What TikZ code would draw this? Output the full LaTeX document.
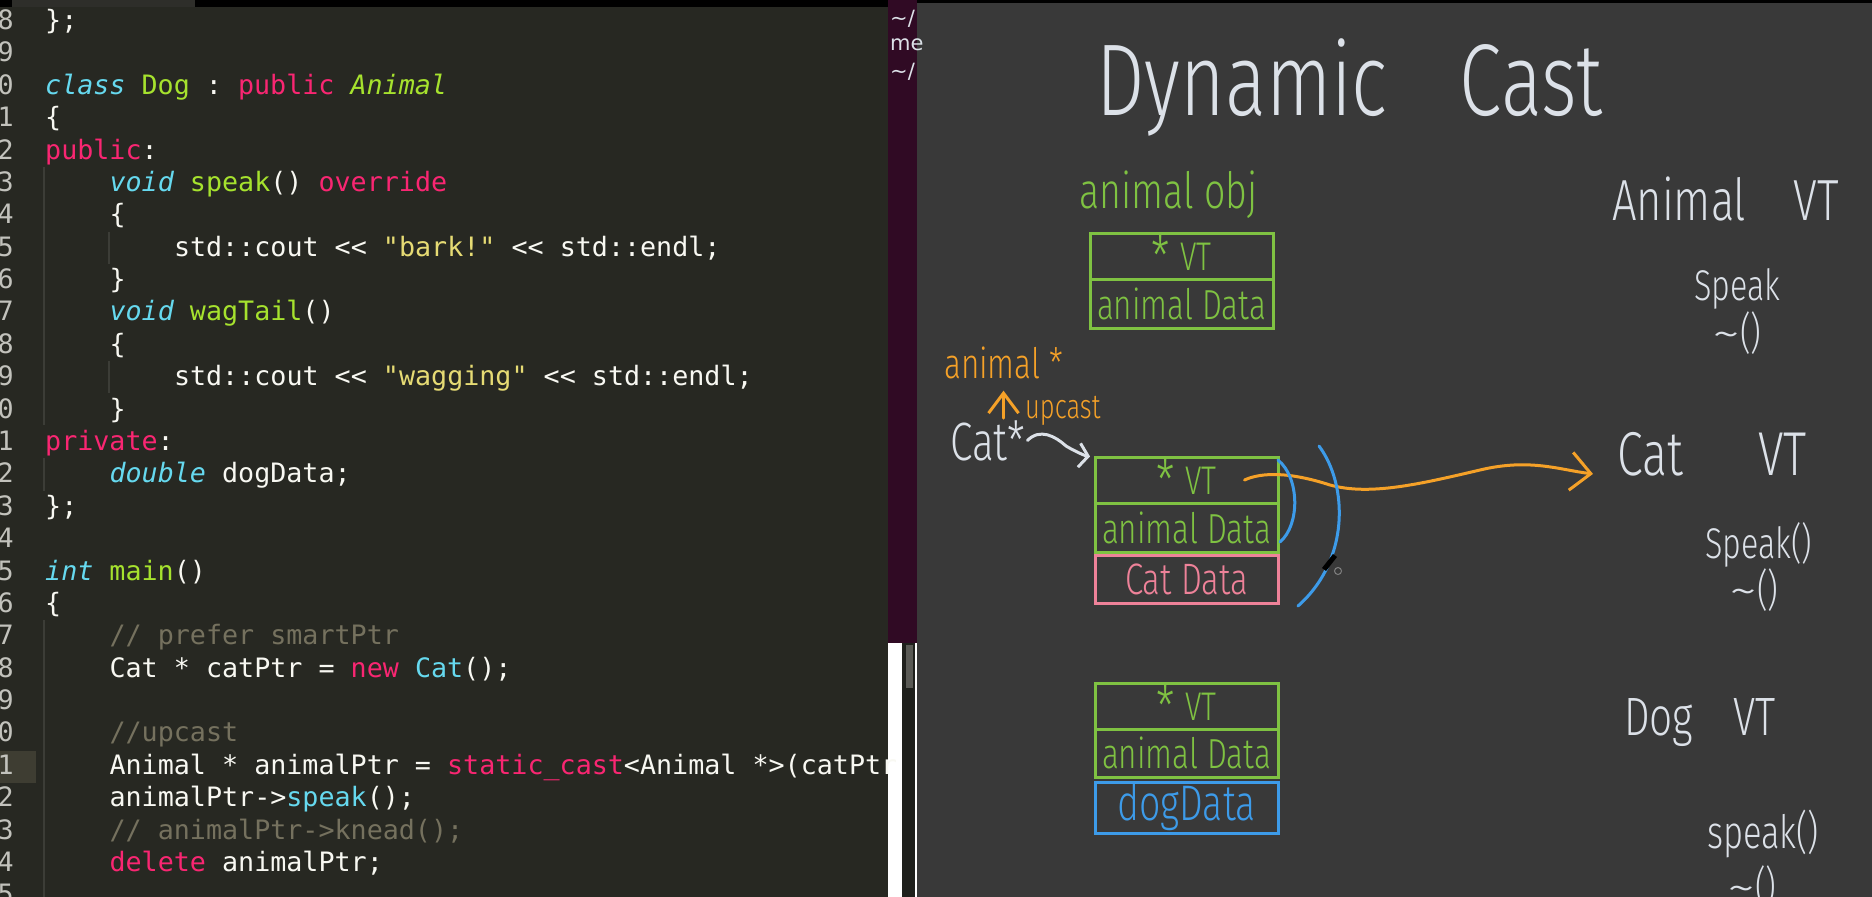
\documentclass[tikz,border=0pt]{standalone}
\usepackage{fontspec}
\usepackage{xcolor}
\usetikzlibrary{arrows.meta,positioning}

\newfontfamily\codefont[Ligatures=TeXOff]{DejaVu Sans Mono}
\newfontfamily\termfont{DejaVu Sans}
\IfFontExistsTF{Fira Sans Light}
  {\newfontfamily\handfont[FakeStretch=0.75]{Fira Sans Light}}
  {\newfontfamily\handfont[FakeStretch=0.75]{Fira Sans}}

% editor colours
\definecolor{mkbg}{HTML}{272822}
\definecolor{mkfg}{HTML}{F8F8F2}
\definecolor{mkpink}{HTML}{F92672}
\definecolor{mkgreen}{HTML}{A6E22E}
\definecolor{mkblue}{HTML}{66D9EF}
\definecolor{mkyellow}{HTML}{E6DB74}
\definecolor{mkcomment}{HTML}{75715E}
\definecolor{mkgutter}{HTML}{C2C2BC}
\definecolor{mkguide}{HTML}{3C3D37}
\definecolor{mkcurline}{HTML}{3E3D32}
\definecolor{mktab}{HTML}{2E2E2A}
\definecolor{mktrack}{HTML}{1F201C}
\definecolor{mkthumb}{HTML}{5A5A55}
\definecolor{termpurple}{HTML}{300A24}
% board colours
\definecolor{boardbg}{HTML}{393939}
\definecolor{penwhite}{HTML}{DCE1E8}
\definecolor{pengreen}{HTML}{7FC242}
\definecolor{penpink}{HTML}{EE8299}
\definecolor{penblue}{HTML}{3D9BE9}
\definecolor{penorange}{HTML}{F5A128}

\newcommand{\hw}[1]{\handfont\fontsize{#1}{#1}\selectfont}
\newcommand{\mkkw}[1]{\textcolor{mkpink}{#1}}
\newcommand{\mktype}[1]{\textcolor{mkblue}{\itshape #1}}
\newcommand{\mkclass}[1]{\textcolor{mkgreen}{#1}}
\newcommand{\mkclassit}[1]{\textcolor{mkgreen}{\itshape #1}}
\newcommand{\mkstr}[1]{\textcolor{mkyellow}{#1}}
\newcommand{\mkcom}[1]{\textcolor{mkcomment}{#1}}
\newcommand{\mkcall}[1]{\textcolor{mkblue}{#1}}
\newcommand{\dtor}{\scalebox{1.8}[1]{\textasciitilde}()}
\newcommand{\vtptr}{\raisebox{-0.15em}{\scalebox{1.4}{*}}\hspace{10pt}VT\hspace{30pt}}

\tikzset{
  code/.style={anchor=base west, inner sep=0pt, text=mkfg,
    font=\codefont\fontsize{26.7}{32}\selectfont\frenchspacing},
  lineno/.style={anchor=base east, inner sep=0pt, text=mkgutter,
    font=\codefont\fontsize{26.7}{32}\selectfont},
  term/.style={anchor=base west, inner sep=0pt, text=penwhite,
    font=\termfont\fontsize{21}{21}\selectfont},
  guide/.style={draw=mkguide, line width=1.5pt},
  hand/.style={anchor=base west, inner sep=2pt},
  pen/.style={line width=3pt, line cap=round, line join=round},
  objrow/.style={draw=pengreen, line width=3pt, outer sep=0pt, inner sep=0pt,
    minimum width=183pt, minimum height=46pt, text=pengreen, font=\hw{42}},
  catrow/.style={objrow, draw=penpink, text=penpink, minimum height=48pt, font=\hw{44}},
  dogrow/.style={objrow, draw=penblue, text=penblue, minimum height=51pt, font=\hw{50}}
}

\begin{document}
\begin{tikzpicture}[x=1pt, y=-1pt]
\useasboundingbox (0,0) rectangle (1872,897);
% Sfondi
\fill[mkbg] (0,0) rectangle (888,897);
\fill[black] (0,0) rectangle (1872,7);
\fill[mktab] (12,0) rectangle (195,7);
\fill[termpurple] (888,0) rectangle (917,643);
\fill[mktrack] (902,643) rectangle (915,897);
\fill[mkthumb] (906,645) rectangle (913,688);
\fill[boardbg] (917,3) rectangle (1872,897);
\fill[mkcurline] (0,751) rectangle (36,783);
% Guide di indentazione
\draw[guide] (44,167) -- (44,425);
\draw[guide] (44,458) -- (44,491);
\draw[guide] (44,620) -- (44,897);
\draw[guide] (109,232) -- (109,264);
\draw[guide] (109,361) -- (109,393);
% Terminale
\node[term] (term1) at (890,25) {\textasciitilde/};
\node[term] (term2) at (890,50) {me};
\node[term] (term3) at (890,78) {\textasciitilde/};
% Numeri di riga
\node[lineno] (n0) at (14,29.5) {8};   \node[lineno] (n1) at (14,61.9) {9};
\node[lineno] (n2) at (14,94.3) {0};   \node[lineno] (n3) at (14,126.6) {1};
\node[lineno] (n4) at (14,159.0) {2};  \node[lineno] (n5) at (14,191.4) {3};
\node[lineno] (n6) at (14,223.8) {4};  \node[lineno] (n7) at (14,256.2) {5};
\node[lineno] (n8) at (14,288.5) {6};  \node[lineno] (n9) at (14,320.9) {7};
\node[lineno] (n10) at (14,353.3) {8}; \node[lineno] (n11) at (14,385.7) {9};
\node[lineno] (n12) at (14,418.1) {0}; \node[lineno] (n13) at (14,450.4) {1};
\node[lineno] (n14) at (14,482.8) {2}; \node[lineno] (n15) at (14,515.2) {3};
\node[lineno] (n16) at (14,547.6) {4}; \node[lineno] (n17) at (14,580.0) {5};
\node[lineno] (n18) at (14,612.3) {6}; \node[lineno] (n19) at (14,644.7) {7};
\node[lineno] (n20) at (14,677.1) {8}; \node[lineno] (n21) at (14,709.5) {9};
\node[lineno] (n22) at (14,741.9) {0}; \node[lineno] (n23) at (14,774.2) {1};
\node[lineno] (n24) at (14,806.6) {2}; \node[lineno] (n25) at (14,839.0) {3};
\node[lineno] (n26) at (14,871.4) {4}; \node[lineno] (n27) at (14,903.8) {5};
% Codice
\node[code] (c0) at (45,29.5) {\};};
\node[code] (c2) at (45,94.3) {\mktype{class} \mkclass{Dog} : \mkkw{public} \mkclassit{Animal}};
\node[code] (c3) at (45,126.6) {\{};
\node[code] (c4) at (45,159.0) {\mkkw{public}:};
\node[code] (c5) at (109.4,191.4) {\mktype{void} \mkclass{speak}() \mkkw{override}};
\node[code] (c6) at (109.4,223.8) {\{};
\node[code] (c7) at (173.8,256.2) {std::cout << \mkstr{"bark!"} << std::endl;};
\node[code] (c8) at (109.4,288.5) {\}};
\node[code] (c9) at (109.4,320.9) {\mktype{void} \mkclass{wagTail}()};
\node[code] (c10) at (109.4,353.3) {\{};
\node[code] (c11) at (173.8,385.7) {std::cout << \mkstr{"wagging"} << std::endl;};
\node[code] (c12) at (109.4,418.1) {\}};
\node[code] (c13) at (45,450.4) {\mkkw{private}:};
\node[code] (c14) at (109.4,482.8) {\mktype{double} dogData;};
\node[code] (c15) at (45,515.2) {\};};
\node[code] (c17) at (45,580.0) {\mktype{int} \mkclass{main}()};
\node[code] (c18) at (45,612.3) {\{};
\node[code] (c19) at (109.4,644.7) {\mkcom{// prefer smartPtr}};
\node[code] (c20) at (109.4,677.1) {Cat * catPtr = \mkkw{new} \mkcall{Cat}();};
\node[code] (c22) at (109.4,741.9) {\mkcom{//upcast}};
\node[code] (c23) at (109.4,774.2) {Animal * animalPtr = \mkkw{static\_cast}<Animal *>(catPtr};
\node[code] (c24) at (109.4,806.6) {animalPtr->\mkcall{speak}();};
\node[code] (c25) at (109.4,839.0) {\mkcom{// animalPtr->knead();}};
\node[code] (c26) at (109.4,871.4) {\mkkw{delete} animalPtr;};
% Lavagna: titolo
\node[hand, text=penwhite, font=\hw{102}] (title) at (1094,115) {Dynamic\hspace{72pt}Cast};
% Oggetto animal
\node[hand, text=pengreen, font=\hw{50}] (aobj) at (1077,208) {animal obj};
\node[objrow, font=\hw{40}] (vt1) at (1181.5,256) {\vtptr};
\node[objrow, minimum height=49pt] (ad1) [below=0pt of vt1] {animal Data};
% Oggetto cat
\node[hand, text=penorange, font=\hw{42}] (aptr) at (942,378) {animal *};
\node[hand, text=penorange, font=\hw{34}] (upcast) at (1023,418) {upcast};
\node[hand, text=penwhite, font=\hw{54}] (catptr) at (948,460) {Cat*};
\node[objrow, font=\hw{40}] (vt2) at (1186.5,480) {\vtptr};
\node[objrow, minimum height=49pt] (ad2) [below=0pt of vt2] {animal Data};
\node[catrow] (catdata) [below=3pt of ad2] {Cat Data};
% Oggetto dog
\node[objrow, font=\hw{40}] (vt3) at (1186.5,706) {\vtptr};
\node[objrow, minimum height=48pt] (ad3) [below=0pt of vt3] {animal Data};
\node[dogrow] (dogdata) [below=5pt of ad3] {dogData};
% Tabelle virtuali
\node[hand, text=penwhite, font=\hw{58}] (animalvt) at (1610,220) {Animal\hspace{47pt}VT};
\node[hand, text=penwhite, font=\hw{43}] (speak1) at (1692,300) {Speak};
\node[hand, text=penwhite, font=\hw{44}] (dtor1) at (1710,348) {\dtor};
\node[hand, text=penwhite, font=\hw{62}] (catvt) at (1615,475) {Cat\hspace{75pt}VT};
\node[hand, text=penwhite, font=\hw{43}] (speak2) at (1703,558) {Speak()};
\node[hand, text=penwhite, font=\hw{44}] (dtor2) at (1727,605) {\dtor};
\node[hand, text=penwhite, font=\hw{54}] (dogvt) at (1622,735) {Dog\hspace{40pt}VT};
\node[hand, text=penwhite, font=\hw{46}] (speak3) at (1705,848) {speak()};
\node[hand, text=penwhite, font=\hw{44}] (dtor3) at (1725,902) {\dtor};
% Frecce
\draw[pen, penwhite, -{Straight Barb[length=9pt,width=24pt]}, shorten >=5pt]
  (catptr.east) .. controls (1040,428) and (1055,436) .. (1066,446)
  .. controls (1076,452) and (1086,456) .. (vt2.north west);
\draw[pen, penorange, -{Straight Barb[length=20pt,width=30pt]}, shorten >=10pt]
  (aptr.south |- catptr.north) -- (aptr.south);
\draw[pen, penorange, -{Straight Barb[length=20pt,width=38pt]}]
  ([xshift=58pt]vt2.center) .. controls (1262,472) and (1290,472) .. (1330,485)
  .. controls (1370,496) and (1420,484) .. (1480,470)
  .. controls (1530,458) and (1560,470) .. ([xshift=-22pt,yshift=4pt]catvt.south west);
% Archi blu
\draw[pen, penblue] (1278,460) .. controls (1300,478) and (1300,525) .. (1280,542);
\draw[pen, penblue] (1319,446) .. controls (1348,485) and (1350,560) .. (1298,606);
% Cursore
\fill[black] (1322,568) -- (1333,554) -- (1337,557) -- (1326,571) -- cycle;
\draw[gray, line width=1pt] (1338,571) circle (3.5);
\end{tikzpicture}
\end{document}
